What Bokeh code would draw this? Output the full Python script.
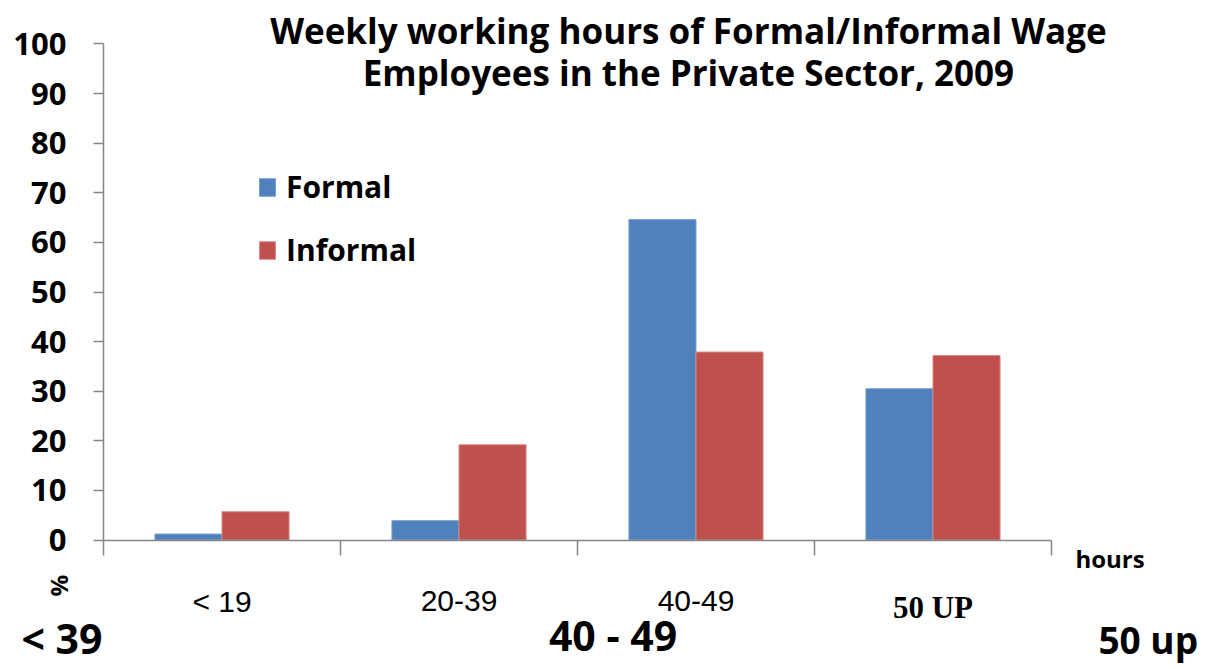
import numpy as np
from bokeh.plotting import figure
from bokeh.models import (Range1d, FixedTicker, Label, Legend, LegendItem,
                          ColumnDataSource, LinearAxis)
from bokeh.embed import file_html
from bokeh.resources import INLINE

# ---- data ----
categories = ["< 19", "20-39", "40-49", "50 UP"]
formal = [1.2, 3.9, 64.6, 30.5]
informal = [5.7, 19.2, 37.9, 37.2]
y_ticks = [0, 10, 20, 30, 40, 50, 60, 70, 80, 90, 100]
title_lines = ["Weekly working hours of Formal/Informal Wage",
               "Employees in the Private Sector, 2009"]

BLUE = "#4F81BD"
RED = "#C0504D"
AXIS = "#868686"
BOLD_FONT = "Open Sans"

W, H = 1210, 665
p = figure(width=W, height=H, output_backend="svg", toolbar_location=None,
           x_range=Range1d(-0.4346, 4.6709), y_range=Range1d(-25.302, 108.770),
           min_border=0, x_axis_type=None, y_axis_type=None)
p.outline_line_color = None
p.xgrid.visible = False
p.ygrid.visible = False

idx = np.arange(len(categories))
bw = 0.283
src = ColumnDataSource(dict(
    xf=idx + 0.5 - bw / 2, xi=idx + 0.5 + bw / 2,
    formal=formal, informal=informal))
rf = p.vbar(x="xf", top="formal", width=bw, bottom=0, source=src,
            fill_color=BLUE, line_color="#7a9fd0", line_width=1)
ri = p.vbar(x="xi", top="informal", width=bw, bottom=0, source=src,
            fill_color=RED, line_color="#d88a88", line_width=1)

# y axis at x = 0
yax = LinearAxis(ticker=FixedTicker(ticks=y_ticks), fixed_location=0,
                 bounds=(0, 100))
yax.axis_line_color = AXIS
yax.axis_line_width = 1.5
yax.major_tick_line_color = AXIS
yax.major_tick_line_width = 1.5
yax.major_tick_out = 10
yax.major_tick_in = 0
yax.minor_tick_line_color = None
yax.major_label_text_font = BOLD_FONT
yax.major_label_text_font_style = "bold"
yax.major_label_text_font_size = "31px"
yax.major_label_text_color = "black"
yax.major_label_standoff = 27
p.add_layout(yax, "left")

# x axis at y = 0 with ticks at category boundaries
xax = LinearAxis(ticker=FixedTicker(ticks=list(range(len(categories) + 1))),
                 fixed_location=0, bounds=(0, len(categories)))
xax.axis_line_color = AXIS
xax.axis_line_width = 1.5
xax.major_tick_line_color = AXIS
xax.major_tick_line_width = 1.5
xax.major_tick_out = 15
xax.major_tick_in = 0
xax.minor_tick_line_color = None
xax.major_label_overrides = {i: "" for i in range(len(categories) + 1)}
xax.major_label_text_font_size = "1px"
p.add_layout(xax, "below")

# category labels
for i, c in enumerate(categories):
    if c == "50 UP":
        lab = Label(x=i + 0.5, y=-13.6, text=c, text_align="center",
                    text_baseline="alphabetic", text_font="Liberation Serif",
                    text_font_style="bold", text_font_size="31px",
                    text_color="black")
    else:
        lab = Label(x=i + 0.5, y=-12.3, text=c, text_align="center",
                    text_baseline="alphabetic", text_font="Liberation Sans",
                    text_font_size="30px", text_color="black")
    p.add_layout(lab)

# title
for t, yy in zip(title_lines, [102.7, 94.2]):
    p.add_layout(Label(x=2.468, y=yy, text=t, text_align="center",
                       text_baseline="alphabetic", text_font=BOLD_FONT,
                       text_font_style="bold", text_font_size="35px",
                       text_color="black"))

# misc texts
def bold_label(x, y, text, size, align="left", angle=0.0, baseline="alphabetic"):
    p.add_layout(Label(x=x, y=y, text=text, text_align=align, angle=angle,
                       text_baseline=baseline, text_font=BOLD_FONT,
                       text_font_style="bold", text_font_size=size,
                       text_color="black"))

bold_label(4.101, -3.7, "hours", "24px")
bold_label(-0.19, -9.2, "%", "24px", align="center", angle=np.pi / 2,
           baseline="middle")
bold_label(-0.346, -19.7, "< 39", "41px")
bold_label(2.15, -19.2, "40 - 49", "41px", align="center")
bold_label(4.198, -20.0, "50 up", "37px")

# legend
legend = Legend(items=[LegendItem(label="Formal", renderers=[rf]),
                       LegendItem(label="Informal", renderers=[ri])],
                location=(257, 395), orientation="vertical")
legend.border_line_color = None
legend.background_fill_alpha = 0
legend.padding = 0
legend.margin = 0
legend.spacing = 22
legend.glyph_width = 20
legend.glyph_height = 22
legend.label_height = 30
legend.label_standoff = 9
legend.label_text_font = BOLD_FONT
legend.label_text_font_style = "bold"
legend.label_text_font_size = "30px"
legend.label_text_color = "black"
p.add_layout(legend, "center")

open("out.html", "w").write(file_html(p, INLINE))
